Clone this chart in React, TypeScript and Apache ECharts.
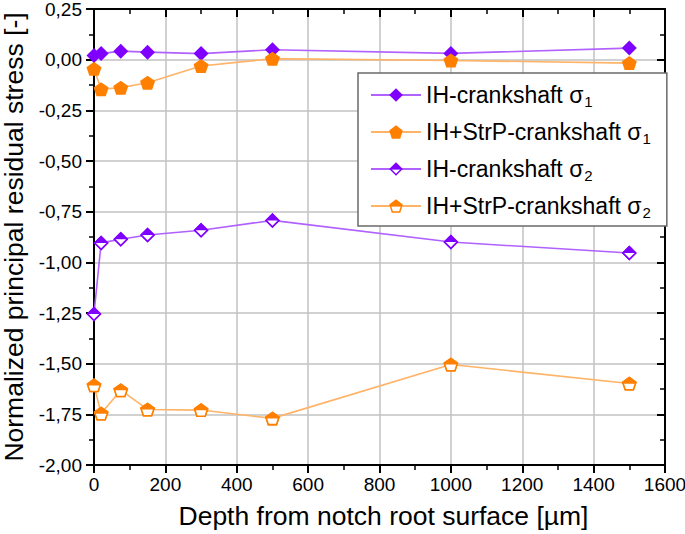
import React, { useEffect, useRef } from 'react';
import * as echarts from 'echarts';

// ---- data ----
const depths = [0, 20, 75, 150, 300, 500, 1000, 1500];
const ihSigma1 = [0.02, 0.03, 0.042, 0.037, 0.03, 0.049, 0.031, 0.057];
const strpSigma1 = [-0.045, -0.146, -0.138, -0.114, -0.031, 0.005, -0.004, -0.017];
const ihSigma2 = [-1.255, -0.904, -0.886, -0.865, -0.842, -0.793, -0.9, -0.954];
const strpSigma2 = [-1.607, -1.746, -1.631, -1.726, -1.729, -1.77, -1.504, -1.598];

const seriesNames = [
  'IH-crankshaft σ1',
  'IH+StrP-crankshaft σ1',
  'IH-crankshaft σ2',
  'IH+StrP-crankshaft σ2',
];
const legendLabels = [
  ['IH-crankshaft σ', '1'],
  ['IH+StrP-crankshaft σ', '1'],
  ['IH-crankshaft σ', '2'],
  ['IH+StrP-crankshaft σ', '2'],
];

const xMin = 0, xMax = 1600, xStep = 200;
const yMin = -2, yMax = 0.25, yStep = 0.25;
const xTitle = 'Depth from notch root surface [µm]';
const yTitle = 'Normalized principal residual stress [-]';

const FONT = '"Liberation Sans", Arial, Helvetica, sans-serif';
const PURPLE = '#7f00ff';
const PURPLE_LINE = '#b061ff';
const ORANGE = '#ff8000';
const ORANGE_LINE = '#ffb366';

const PENT = 'path://M10 0 L19.51 6.91 L15.88 18.09 L4.12 18.09 L0.49 6.91 Z';
const PENT_HALF =
  'path://M10 0 L19.51 6.91 L15.88 18.09 L4.12 18.09 L0.49 6.91 Z ' +
  'M10 2.47 L2.84 7.67 L5.57 16.09 L14.43 16.09 L17.16 7.67 Z ' +
  'M10 0 L19.51 6.91 L18.83 9.2 L1.17 9.2 L0.49 6.91 Z';
const DIAM_HALF =
  'path://M10 0 L20 10 L10 20 L0 10 Z M10 3 L3 10 L10 17 L17 10 Z M10 0 L20 10 L0 10 Z';

const pts = (vals: number[]) => depths.map((d, i) => [d, vals[i]]);

export default function App() {
  const ref = useRef<HTMLDivElement>(null);
  useEffect(() => {
    document.body.style.margin = '0';
    if (!ref.current) return;
    const chart = echarts.init(ref.current, undefined, { renderer: 'svg' });

    const mainSeries = (name: string, vals: number[], symbol: string, size: number[], color: string, lineColor: string) => ({
      name,
      type: 'line',
      data: pts(vals),
      symbol,
      symbolSize: size,
      z: 2,
      itemStyle: { color, borderWidth: 0 },
      lineStyle: { color: lineColor, width: 1.6 },
    });
    const helper = (name: string, vals: number[], symbol: string, size: number[], color: string, z: number) => ({
      name,
      type: 'line',
      data: pts(vals),
      symbol,
      symbolSize: size,
      z,
      silent: true,
      itemStyle: { color, borderWidth: 0 },
      lineStyle: { width: 0, opacity: 0 },
    });

    const axisLine = { show: true, onZero: false, lineStyle: { color: '#000', width: 2 } };

    chart.setOption({
      animation: false,
      backgroundColor: '#fff',
      textStyle: { fontFamily: FONT },
      grid: { left: 94, right: 20, top: 9, bottom: 69, containLabel: false, outerBoundsMode: 'none' },
      legend: {
        data: seriesNames,
        orient: 'vertical',
        left: 358,
        top: 73,
        padding: [7, 16, 6, 12],
        itemWidth: 50,
        itemHeight: 17,
        itemGap: 8,
        backgroundColor: '#fff',
        borderColor: '#6a6a6a',
        borderWidth: 1.5,
        borderRadius: 0,
        z: 10,
        formatter: (name: string) => {
          const i = seriesNames.indexOf(name);
          return `{t|${legendLabels[i][0]}}{s|${legendLabels[i][1]}}`;
        },
        textStyle: {
          rich: {
            t: { fontSize: 23, fontFamily: FONT, color: '#000', lineHeight: 28 },
            s: { fontSize: 15, fontFamily: FONT, color: '#000', lineHeight: 15, padding: [14, 0, 0, 1], verticalAlign: 'bottom' },
          },
        },
      },
      xAxis: [
        {
          type: 'value',
          position: 'bottom',
          min: xMin,
          max: xMax,
          interval: xStep,
          axisLine,
          axisTick: { show: true, inside: false, length: 8, lineStyle: { color: '#000', width: 2 } },
          minorTick: { show: true, splitNumber: 2, length: 5, lineStyle: { color: '#000', width: 1.5 } },
          axisLabel: { fontSize: 19, color: '#000', margin: 10, fontFamily: FONT, formatter: (v: number) => String(v) },
          splitLine: { show: true, lineStyle: { color: '#c2c2c2', width: 1.5 } },
          name: xTitle,
          nameLocation: 'middle',
          nameGap: 37,
          nameTextStyle: { fontSize: 26.5, color: '#000', fontFamily: FONT, padding: [0, 0, 0, 8] },
        },
        {
          type: 'value',
          position: 'top',
          min: xMin,
          max: xMax,
          interval: xStep,
          axisLine,
          axisTick: { show: true, inside: true, length: 8, lineStyle: { color: '#000', width: 2 } },
          minorTick: { show: true, splitNumber: 2, length: 5, lineStyle: { color: '#000', width: 1.5 } },
          axisLabel: { show: false },
          splitLine: { show: false },
        },
      ],
      yAxis: [
        {
          type: 'value',
          position: 'left',
          min: yMin,
          max: yMax,
          interval: yStep,
          axisLine,
          axisTick: { show: true, inside: false, length: 8, lineStyle: { color: '#000', width: 2 } },
          minorTick: { show: true, splitNumber: 2, length: 5, lineStyle: { color: '#000', width: 1.5 } },
          axisLabel: {
            fontSize: 19,
            color: '#000',
            margin: 12,
            fontFamily: FONT,
            formatter: (v: number) => v.toFixed(2).replace('.', ','),
          },
          splitLine: { show: true, lineStyle: { color: '#c2c2c2', width: 1.5 } },
          name: yTitle,
          nameLocation: 'middle',
          nameGap: 66,
          nameTextStyle: { fontSize: 26.5, color: '#000', fontFamily: FONT },
        },
        {
          type: 'value',
          position: 'right',
          min: yMin,
          max: yMax,
          interval: yStep,
          axisLine,
          axisTick: { show: true, inside: true, length: 8, lineStyle: { color: '#000', width: 2 } },
          minorTick: { show: true, splitNumber: 2, length: 5, lineStyle: { color: '#000', width: 1.5 } },
          axisLabel: { show: false },
          splitLine: { show: false },
        },
      ],
      series: [
        mainSeries(seriesNames[0], ihSigma1, 'diamond', [15, 15], PURPLE, PURPLE_LINE),
        mainSeries(seriesNames[1], strpSigma1, PENT, [15, 14], ORANGE, ORANGE_LINE),
        mainSeries(seriesNames[2], ihSigma2, DIAM_HALF, [15, 15], PURPLE, PURPLE_LINE),
        mainSeries(seriesNames[3], strpSigma2, PENT_HALF, [15, 14], ORANGE, ORANGE_LINE),
        helper('_w3', ihSigma2, 'diamond', [13, 13], '#fff', 3),
        helper('_h3', ihSigma2, DIAM_HALF, [15, 15], PURPLE, 4),
        helper('_w4', strpSigma2, PENT, [13, 12], '#fff', 3),
        helper('_h4', strpSigma2, PENT_HALF, [15, 14], ORANGE, 4),
      ],
    });
    return () => chart.dispose();
  }, []);
  return <div ref={ref} style={{ width: 685, height: 534 }} />;
}
